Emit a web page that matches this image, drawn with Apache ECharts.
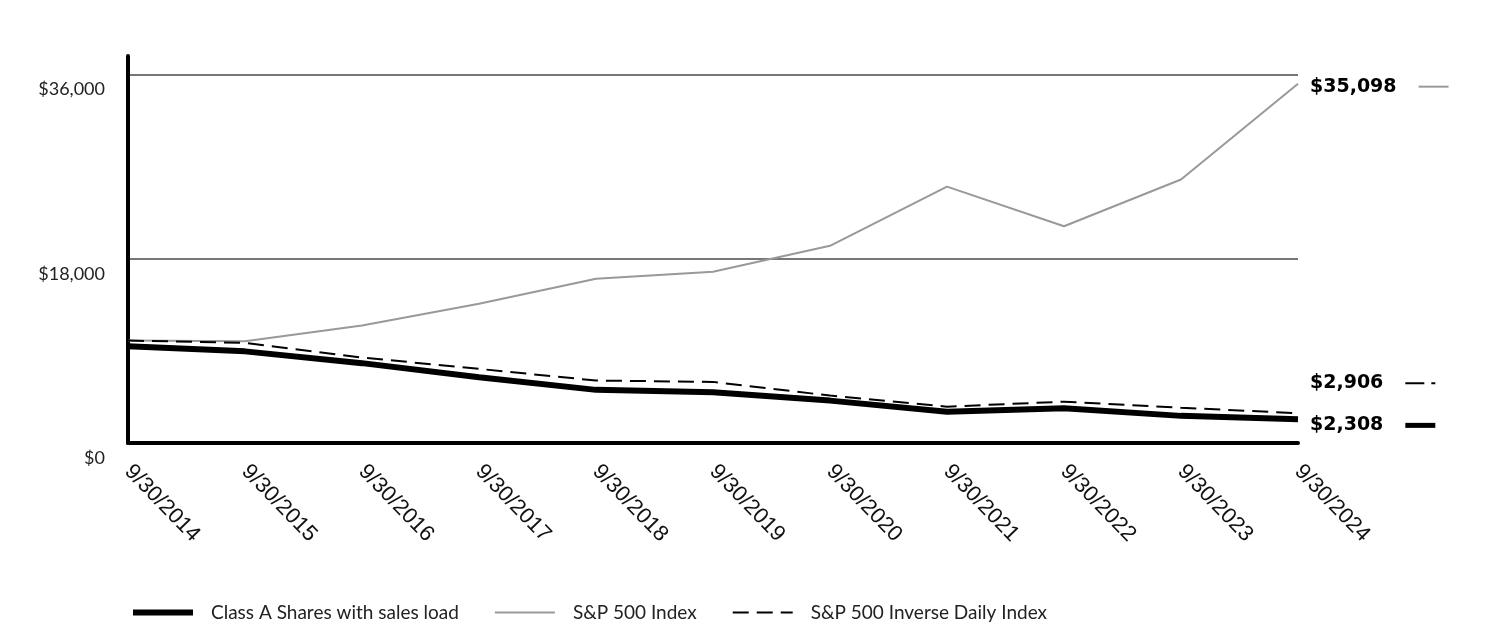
<!DOCTYPE html>
<html>
<head>
<meta charset="utf-8">
<script src="https://cdn.jsdelivr.net/npm/echarts@6/dist/echarts.min.js"></script>
<style>
html,body{margin:0;padding:0;background:#fff;}
#chart{width:1512px;height:624px;}
</style>
</head>
<body>
<div id="chart"></div>
<script>
const categories = ['9/30/2014','9/30/2015','9/30/2016','9/30/2017','9/30/2018','9/30/2019','9/30/2020','9/30/2021','9/30/2022','9/30/2023','9/30/2024'];
const classA = [9450, 8950, 7800, 6430, 5190, 4960, 4140, 3060, 3400, 2650, 2308];
const sp500 = [10000, 9939, 11472, 13607, 16044, 16727, 19261, 25040, 21166, 25742, 35098];
const inverse = [10000, 9790, 8350, 7240, 6100, 5970, 4630, 3550, 4040, 3450, 2906];
const seriesNames = ['Class A Shares with sales load', 'S&P 500 Index', 'S&P 500 Inverse Daily Index'];
const yTicks = [0, 18000, 36000];

const chart = echarts.init(document.getElementById('chart'), null, {renderer: 'canvas'});
const fmt = v => '$' + Number(v).toLocaleString('en-US');
const baseRich = {
  v: {fontFamily: 'DejaVu Sans', fontWeight: 'bold', fontSize: 19, color: '#000', verticalAlign: 'middle'},
  g: {width: 22, height: 2, verticalAlign: 'middle'},
  g2: {width: 7, height: 2, verticalAlign: 'middle'},
  thick: {width: 30, height: 5, backgroundColor: '#000', verticalAlign: 'middle'},
  thin: {width: 30, height: 2, backgroundColor: '#999', verticalAlign: 'middle'},
  d1: {width: 19, height: 2, backgroundColor: '#000', verticalAlign: 'middle'},
  d2: {width: 4, height: 2, backgroundColor: '#000', verticalAlign: 'middle'}
};

const option = {
  animation: false,
  grid: {left: 128, right: 214, top: 56, bottom: 181, containLabel: false},
  legend: {
    bottom: 2,
    left: 130,
    padding: 0,
    itemWidth: 60,
    itemHeight: 12,
    itemGap: 35,
    itemStyle: {opacity: 0},
    textStyle: {fontFamily: 'Lato', fontSize: 19, color: '#222', padding: [0, 0, 0, 13]},
    data: [
      {name: seriesNames[0], lineStyle: {width: 6, color: '#000', type: 'solid'}},
      {name: seriesNames[1], lineStyle: {width: 2, color: '#999', type: 'solid'}},
      {name: seriesNames[2], lineStyle: {width: 2, color: '#000', type: [16, 8]}}
    ]
  },
  xAxis: {
    type: 'category',
    data: categories,
    boundaryGap: false,
    axisLine: {lineStyle: {color: '#000', width: 4}},
    axisTick: {show: false},
    axisLabel: {
      interval: 0,
      rotate: -46,
      margin: 25,
      fontFamily: 'Liberation Sans',
      fontSize: 22,
      color: '#111'
    },
    splitLine: {show: false}
  },
  yAxis: {
    type: 'value',
    min: 0,
    max: 37800,
    interval: 18000,
    axisLine: {show: true, lineStyle: {color: '#000', width: 4}},
    axisTick: {show: false},
    axisLabel: {
      showMaxLabel: false,
      margin: 23,
      fontFamily: 'Lato',
      fontSize: 18,
      color: '#222',
      verticalAlign: 'top',
      padding: [6, 0, 0, 0],
      formatter: v => yTicks.indexOf(v) >= 0 ? fmt(v) : ''
    },
    splitLine: {show: true, showMinLine: false, showMaxLine: false, lineStyle: {color: '#777', width: 2}}
  },
  series: [
    {
      name: seriesNames[0],
      type: 'line',
      data: classA,
      symbol: 'none',
      z: 4,
      lineStyle: {color: '#000', width: 6},
      itemStyle: {color: '#000'},
      endLabel: {
        show: true,
        distance: 12,
        offset: [0, 6],
        formatter: p => '{v|' + fmt(p.value) + '}{g|}{thick|}',
        rich: baseRich
      }
    },
    {
      name: seriesNames[1],
      type: 'line',
      data: sp500,
      symbol: 'none',
      z: 3,
      lineStyle: {color: '#999', width: 2},
      itemStyle: {color: '#999'},
      endLabel: {
        show: true,
        distance: 12,
        offset: [0, 3],
        formatter: p => '{v|' + fmt(p.value) + '}{g|}{thin|}',
        rich: baseRich
      }
    },
    {
      name: seriesNames[2],
      type: 'line',
      data: inverse,
      symbol: 'none',
      z: 3,
      lineStyle: {color: '#000', width: 2, type: [16, 8]},
      itemStyle: {color: '#000'},
      endLabel: {
        show: true,
        distance: 12,
        offset: [0, -30],
        formatter: p => '{v|' + fmt(p.value) + '}{g|}{d1|}{g2|}{d2|}',
        rich: baseRich
      }
    }
  ]
};
chart.setOption(option);
</script>
</body>
</html>
